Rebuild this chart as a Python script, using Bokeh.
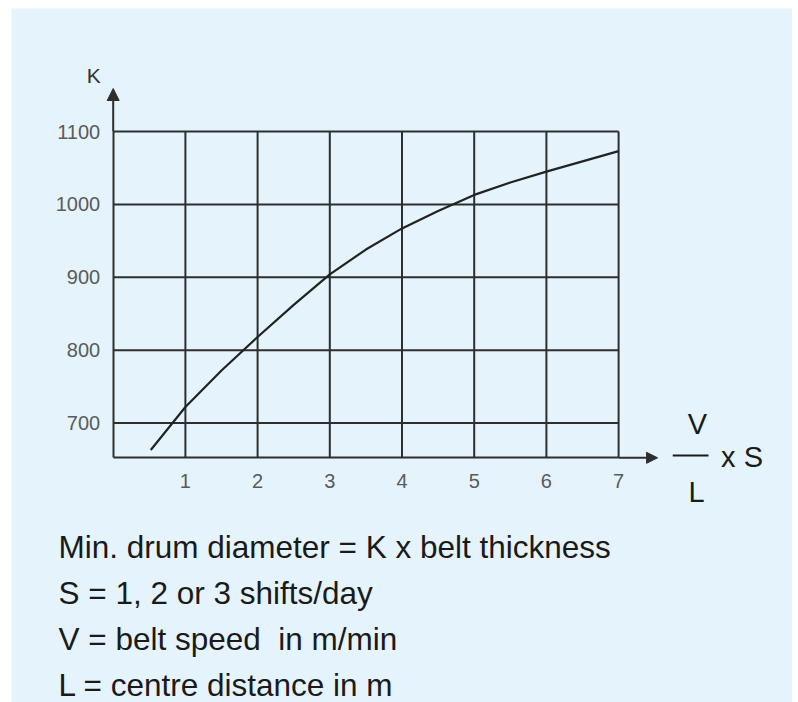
from bokeh.plotting import figure
from bokeh.models import FixedTicker, Arrow, NormalHead, Label, Range1d
from bokeh.embed import file_html
from bokeh.resources import INLINE

# K factor against (V / L) x S
ratio = [0.52, 1, 1.5, 2, 2.5, 3, 3.5, 4, 4.5, 5, 5.5, 6, 6.5, 7]
k_factor = [663, 722, 772, 818, 862, 904, 938, 967, 991, 1013, 1030, 1045, 1059, 1073]

x_ticks = [1, 2, 3, 4, 5, 6, 7]
y_ticks = [700, 800, 900, 1000, 1100]

notes = [
    "Min. drum diameter = K x belt thickness",
    "S = 1, 2 or 3 shifts/day",
    "V = belt speed\u00a0 in m/min",
    "L = centre distance in m",
]

# extent of the gridded box
X_MIN, X_MAX = 0, 7
K_MIN, K_MAX = 652.2, 1100

BG = "#e5f4fc"
INK = "#2e2e2e"
FONT = "Liberation Sans, Arial, Helvetica, sans-serif"

# pixels per data unit inside the drawing
PX_X = 72.2
PX_Y = 0.72875
W, H = 781, 694
x0 = -101.7 / PX_X
y1 = K_MAX + 123 / PX_Y

p = figure(
    width=W, height=H, min_border=0,
    x_range=Range1d(x0, x0 + W / PX_X), y_range=Range1d(y1 - H / PX_Y, y1),
    output_backend="svg", toolbar_location=None,
    background_fill_color=BG, border_fill_color=BG,
    margin=(8, 0, 0, 11),
)
p.outline_line_color = None
p.xgrid.visible = False
p.ygrid.visible = False

# axes pinned to the edges of the gridded box
xa, ya = p.xaxis[0], p.yaxis[0]
xa.fixed_location = K_MIN
ya.fixed_location = X_MIN
xa.bounds = (X_MIN, X_MAX)
ya.bounds = (K_MIN, K_MAX)
for ax, ticks in ((xa, x_ticks), (ya, y_ticks)):
    ax.ticker = FixedTicker(ticks=ticks)
    ax.axis_line_color = INK
    ax.axis_line_width = 2
    ax.major_tick_line_color = None
    ax.minor_tick_line_color = None
    ax.major_label_text_font = FONT
    ax.major_label_text_font_size = "20px"
    ax.major_label_text_color = "#5a5a5a"
xa.major_label_standoff = 10
ya.major_label_standoff = 7

# grid lines, including the top and right edges of the box
p.segment(x0=x_ticks, y0=[K_MIN] * len(x_ticks), x1=x_ticks, y1=[K_MAX] * len(x_ticks),
          line_color=INK, line_width=2)
p.segment(x0=[X_MIN] * len(y_ticks), y0=y_ticks, x1=[X_MAX] * len(y_ticks), y1=y_ticks,
          line_color=INK, line_width=2)

p.line(ratio, k_factor, line_color="#222222", line_width=2.2)

# axis arrows
p.add_layout(Arrow(x_start=X_MIN, y_start=K_MAX, x_end=X_MIN, y_end=1159,
                   line_color=INK, line_width=2,
                   end=NormalHead(size=12, fill_color=INK, line_color=INK)))
p.add_layout(Arrow(x_start=X_MAX, y_start=K_MIN, x_end=7.54, y_end=K_MIN,
                   line_color=INK, line_width=2,
                   end=NormalHead(size=11, fill_color=INK, line_color=INK)))

# axis titles
p.add_layout(Label(x=-0.27, y=1177, text="K", text_align="center",
                   text_baseline="middle", text_font=FONT,
                   text_font_size="21px", text_color="#333333"))
p.add_layout(Label(x=8.09, y=699, text="V", text_align="center",
                   text_baseline="middle", text_font=FONT,
                   text_font_size="29px", text_color="#1a1a1a"))
p.add_layout(Label(x=8.08, y=605, text="L", text_align="center",
                   text_baseline="middle", text_font=FONT,
                   text_font_size="29px", text_color="#1a1a1a"))
p.add_layout(Label(x=8.42, y=654, text="x S", text_align="left",
                   text_baseline="middle", text_font=FONT,
                   text_font_size="29px", text_color="#1a1a1a"))
p.add_layout(Arrow(x_start=7.75, y_start=655.4, x_end=8.245, y_end=655.4,
                   line_color="#1a1a1a", line_width=2, end=None))

# explanatory notes under the chart
for i, line in enumerate(notes):
    p.add_layout(Label(x=-0.758, y=529.2 - i * 63.1, text=line,
                       text_align="left", text_baseline="middle",
                       text_font=FONT, text_font_size="31.5px",
                       text_color="#1a1a1a"))

open("out.html", "w").write(file_html(p, INLINE))
